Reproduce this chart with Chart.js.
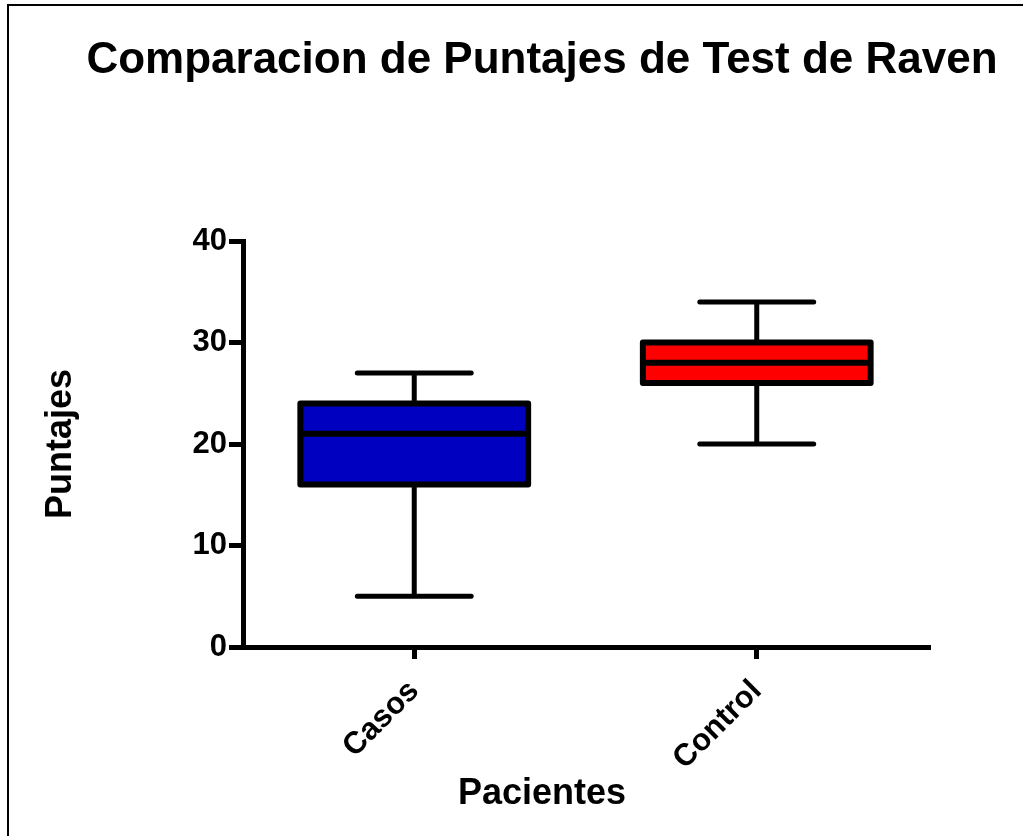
<!DOCTYPE html>
<html>
<head>
<meta charset="utf-8">
<title>Comparacion de Puntajes de Test de Raven</title>
<script src="https://cdn.jsdelivr.net/npm/chart.js@4"></script>
<style>
  html, body { margin: 0; padding: 0; background: #fff; }
  #wrap { width: 1023px; height: 836px; }
</style>
</head>
<body>
<div id="wrap"><canvas id="chart" width="1023" height="836"></canvas></div>
<script>
// box plot data
const categories = ['Casos', 'Control'];
const minValues = [5, 20];
const q1Values = [16, 26];
const medianValues = [21, 28];
const q3Values = [24, 30];
const maxValues = [27, 34];
const yTicks = [0, 10, 20, 30, 40];
const boxColors = ['#0000C0', '#FF0000'];

const chartTitle = 'Comparacion de Puntajes de Test de Raven';
const xTitle = 'Pacientes';
const yTitle = 'Puntajes';

const FONT = "'Liberation Sans', Arial, sans-serif";

// whiskers, medians, box outlines, frame and titles
const boxPlotExtras = {
    id: 'boxPlotExtras',
    beforeDraw(chart) {
        const ctx = chart.ctx;
        ctx.save();
        ctx.fillStyle = '#fff';
        ctx.fillRect(0, 0, chart.width, chart.height);
        ctx.strokeStyle = '#000';
        ctx.lineWidth = 2;
        ctx.strokeRect(8, 5, chart.width + 50, chart.height + 50);
        ctx.restore();
    },
    beforeDatasetsDraw(chart) {
        const ctx = chart.ctx;
        const y = chart.scales.y;
        const bars = chart.getDatasetMeta(0).data;
        ctx.save();
        ctx.strokeStyle = '#000';
        ctx.lineWidth = 5;
        ctx.lineCap = 'round';
        bars.forEach((bar, i) => {
            const half = bar.width / 4;
            const yMin = y.getPixelForValue(minValues[i]);
            const yMax = y.getPixelForValue(maxValues[i]);
            const yQ1 = y.getPixelForValue(q1Values[i]);
            const yQ3 = y.getPixelForValue(q3Values[i]);
            ctx.beginPath();
            ctx.moveTo(bar.x, yQ1);
            ctx.lineTo(bar.x, yMin);
            ctx.moveTo(bar.x - half, yMin);
            ctx.lineTo(bar.x + half, yMin);
            ctx.moveTo(bar.x, yQ3);
            ctx.lineTo(bar.x, yMax);
            ctx.moveTo(bar.x - half, yMax);
            ctx.lineTo(bar.x + half, yMax);
            ctx.stroke();
        });
        ctx.restore();
    },
    afterDatasetsDraw(chart) {
        const ctx = chart.ctx;
        const y = chart.scales.y;
        const bars = chart.getDatasetMeta(0).data;
        ctx.save();
        ctx.strokeStyle = '#000';
        ctx.lineWidth = 6;
        ctx.lineJoin = 'round';
        bars.forEach((bar, i) => {
            const left = bar.x - bar.width / 2;
            const yQ1 = y.getPixelForValue(q1Values[i]);
            const yQ3 = y.getPixelForValue(q3Values[i]);
            const ym = y.getPixelForValue(medianValues[i]);
            ctx.strokeRect(left, yQ3, bar.width, yQ1 - yQ3);
            ctx.beginPath();
            ctx.moveTo(left, ym);
            ctx.lineTo(left + bar.width, ym);
            ctx.stroke();
        });
        ctx.restore();
    },
    afterDraw(chart) {
        const ctx = chart.ctx;
        ctx.save();
        ctx.fillStyle = '#000';
        ctx.textAlign = 'center';
        ctx.textBaseline = 'alphabetic';
        ctx.font = 'bold 44px ' + FONT;
        ctx.fillText(chartTitle, 542, 73);
        ctx.font = 'bold 36px ' + FONT;
        ctx.fillText(xTitle, 542, 804);
        ctx.restore();
    }
};

new Chart(document.getElementById('chart'), {
    type: 'bar',
    data: {
        labels: categories,
        datasets: [{
            data: categories.map((c, i) => [q1Values[i], q3Values[i]]),
            backgroundColor: boxColors,
            borderWidth: 0,
            barPercentage: 0.665,
            categoryPercentage: 1
        }]
    },
    options: {
        responsive: false,
        animation: false,
        layout: { padding: { top: 241, right: 95, bottom: 0, left: 0 } },
        plugins: {
            legend: { display: false },
            tooltip: { enabled: false },
            title: { display: false }
        },
        scales: {
            x: {
                afterFit: (scale) => { scale.height = 189; },
                grid: {
                    offset: false,
                    drawOnChartArea: false,
                    drawTicks: true,
                    tickLength: 12,
                    lineWidth: 5,
                    color: '#000'
                },
                border: { display: true, color: '#000', width: 5 },
                ticks: {
                    color: '#000',
                    font: { family: FONT, size: 31, weight: 'bold' },
                    minRotation: 45,
                    maxRotation: 45,
                    padding: 14
                }
            },
            y: {
                min: yTicks[0],
                max: yTicks[yTicks.length - 1],
                afterFit: (scale) => { scale.width = 243; },
                afterBuildTicks: (scale) => { scale.ticks = yTicks.map(v => ({ value: v })); },
                grid: {
                    drawOnChartArea: false,
                    drawTicks: true,
                    tickLength: 14,
                    lineWidth: 5,
                    color: '#000'
                },
                border: { display: true, color: '#000', width: 5 },
                ticks: {
                    color: '#000',
                    font: { family: FONT, size: 31, weight: 'bold' },
                    padding: 2
                },
                title: {
                    display: true,
                    text: yTitle,
                    color: '#000',
                    font: { family: FONT, size: 36, weight: 'bold' },
                    padding: { top: 39, bottom: 0 }
                }
            }
        }
    },
    plugins: [boxPlotExtras]
});
</script>
</body>
</html>
